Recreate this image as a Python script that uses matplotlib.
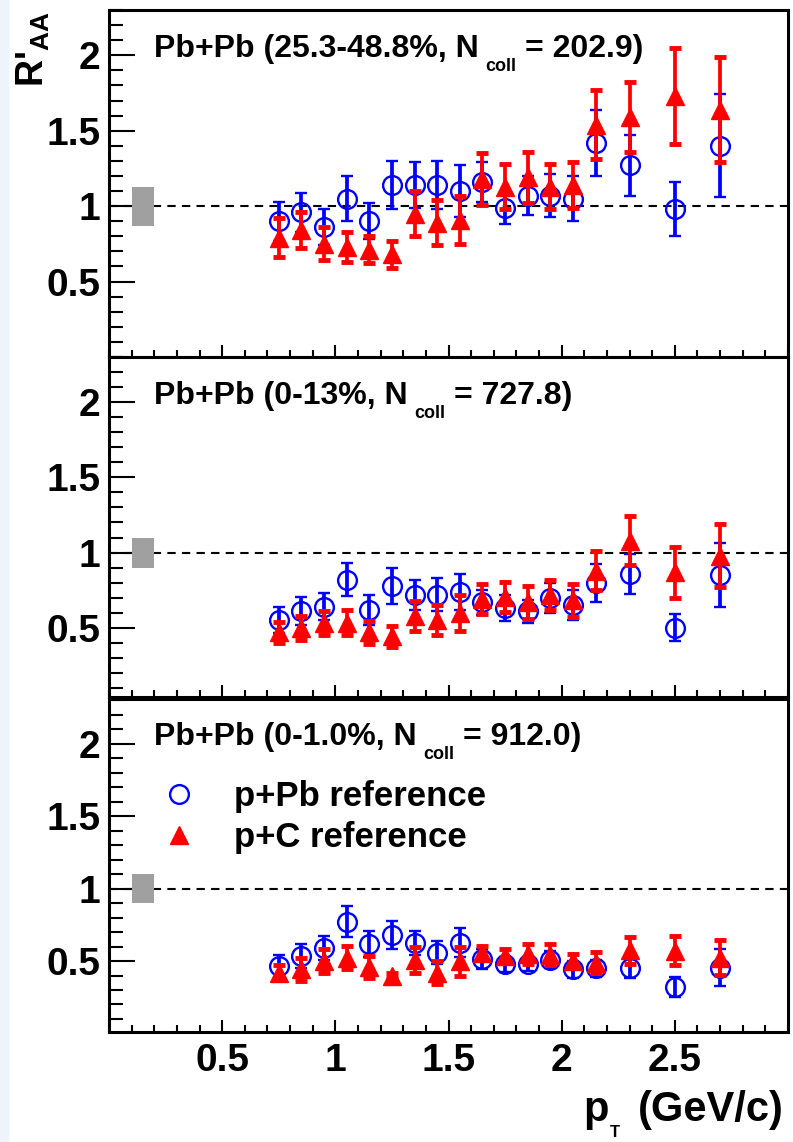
import matplotlib
matplotlib.use("Agg")
import matplotlib.pyplot as plt
from matplotlib.ticker import MultipleLocator
from matplotlib.patches import Rectangle

plt.rcParams['font.family'] = ['Liberation Sans', 'DejaVu Sans']
plt.rcParams['font.weight'] = 'bold'
plt.rcParams['mathtext.fontset'] = 'custom'
plt.rcParams['mathtext.rm'] = 'Liberation Sans:bold'
plt.rcParams['mathtext.bf'] = 'Liberation Sans:bold'
plt.rcParams['mathtext.it'] = 'Liberation Sans:bold'

# pT bin centres (GeV/c)
pt = [0.75, 0.85, 0.95, 1.05, 1.15, 1.25, 1.35, 1.45, 1.55, 1.65,
      1.75, 1.85, 1.95, 2.05, 2.15, 2.3, 2.5, 2.7]

# Pb+Pb 25.3-48.8%
ppb_periph = [0.90, 0.96, 0.86, 1.05, 0.90, 1.14, 1.14, 1.14, 1.10, 1.16,
              0.99, 1.07, 1.07, 1.05, 1.42, 1.27, 0.98, 1.40]
ppb_periph_err = [0.13, 0.13, 0.12, 0.15, 0.12, 0.16, 0.15, 0.16, 0.17, 0.13,
                  0.11, 0.13, 0.14, 0.15, 0.22, 0.20, 0.18, 0.34]
pc_periph = [0.79, 0.84, 0.75, 0.73, 0.71, 0.68, 0.95, 0.89, 0.91, 1.18,
             1.13, 1.19, 1.13, 1.14, 1.54, 1.59, 1.73, 1.64]
pc_periph_err = [0.13, 0.12, 0.11, 0.10, 0.09, 0.09, 0.15, 0.15, 0.16, 0.17,
                 0.15, 0.17, 0.15, 0.15, 0.23, 0.23, 0.32, 0.35]

# Pb+Pb 0-13%
ppb_central = [0.55, 0.61, 0.64, 0.82, 0.62, 0.78, 0.72, 0.72, 0.74, 0.67,
               0.63, 0.61, 0.70, 0.65, 0.80, 0.86, 0.50, 0.85]
ppb_central_err = [0.085, 0.094, 0.088, 0.11, 0.10, 0.12, 0.10, 0.11, 0.12, 0.083,
                   0.085, 0.078, 0.10, 0.10, 0.127, 0.133, 0.09, 0.215]
pc_central = [0.47, 0.50, 0.53, 0.535, 0.47, 0.445, 0.58, 0.55, 0.60, 0.69,
              0.705, 0.67, 0.717, 0.683, 0.88, 1.08, 0.87, 0.98]
pc_central_err = [0.07, 0.08, 0.08, 0.08, 0.075, 0.07, 0.10, 0.10, 0.12, 0.10,
                  0.10, 0.11, 0.10, 0.11, 0.13, 0.16, 0.17, 0.21]

# Pb+Pb 0-1.0%
ppb_ultra = [0.466, 0.534, 0.59, 0.773, 0.618, 0.68, 0.625, 0.557, 0.625, 0.516,
             0.477, 0.48, 0.51, 0.443, 0.45, 0.45, 0.32, 0.455]
ppb_ultra_err = [0.077, 0.083, 0.08, 0.107, 0.09, 0.10, 0.08, 0.08, 0.10, 0.07,
                 0.05, 0.05, 0.06, 0.06, 0.06, 0.065, 0.07, 0.125]
pc_ultra = [0.42, 0.443, 0.50, 0.523, 0.46, 0.40, 0.51, 0.42, 0.50, 0.557,
            0.534, 0.55, 0.545, 0.50, 0.49, 0.573, 0.57, 0.523]
pc_ultra_err = [0.05, 0.08, 0.08, 0.08, 0.075, 0.02, 0.09, 0.08, 0.10, 0.05,
                0.05, 0.07, 0.07, 0.05, 0.07, 0.09, 0.10, 0.12]

# label pieces: text before subscript, subscript, text after
panel_labels = [("Pb+Pb (25.3-48.8%, N", "coll", "= 202.9)"),
                ("Pb+Pb (0-13%, N", "coll", "= 727.8)"),
                ("Pb+Pb (0-1.0%, N", "coll", "= 912.0)")]
norm_unc = [0.13, 0.10, 0.10]

panels = [(ppb_periph, ppb_periph_err, pc_periph, pc_periph_err),
          (ppb_central, ppb_central_err, pc_central, pc_central_err),
          (ppb_ultra, ppb_ultra_err, pc_ultra, pc_ultra_err)]


def sub_label(ax, xy, coords, pre, sub, post, size, sub_size, drop, gap1, gap2):
    # ROOT style subscript: drops well below the baseline
    t1 = ax.annotate(pre, xy=xy, xycoords=coords, fontsize=size, fontweight='bold',
                     ha='left', va='baseline', annotation_clip=False)
    t2 = ax.annotate(sub, xy=(1, 0), xycoords=t1, xytext=(gap1, -drop),
                     textcoords='offset pixels', fontsize=sub_size,
                     fontweight='bold', ha='left', va='bottom', annotation_clip=False)
    ax.annotate(post, xy=(1, 0), xycoords=(t2, t1), xytext=(gap2, 0),
                textcoords='offset pixels', fontsize=size, fontweight='bold',
                ha='left', va='bottom', annotation_clip=False)


W, H = 793, 1142
fig = plt.figure(figsize=(W / 100, H / 100), dpi=100)
fig.patches.append(Rectangle((0, 0), 8 / W, 1, transform=fig.transFigure,
                             color='#edf4fc', zorder=0))

# pixel rows of each panel (top, bottom) and y ranges
rows = [(10, 357), (357, 697), (699, 1032)]
ylims = [(0.0, 2.3), (0.04, 2.3), (0.01, 2.31)]
left, right = 109, 788

axes = []
handles = []
for i, (top, bot) in enumerate(rows):
    ax = fig.add_axes([left / W, 1 - bot / H, (right - left) / W, (bot - top) / H])
    axes.append(ax)
    ppb, ppb_e, pc, pc_e = panels[i]

    ax.set_xlim(0, 3)
    ax.set_ylim(*ylims[i])
    ax.axhline(1, color='black', ls=(0, (4, 3)), lw=1.5, zorder=1)
    ax.bar(0.15, 2 * norm_unc[i], bottom=1 - norm_unc[i], width=0.1,
           color='#a0a0a0', zorder=2)

    eb1 = ax.errorbar(pt, ppb, yerr=ppb_e, fmt='o', mfc='none', mec='blue', ms=13.5,
                      mew=1.7, ecolor='blue', elinewidth=2.7, capsize=4, capthick=3.5,
                      zorder=3)
    eb2 = ax.errorbar(pt, pc, yerr=pc_e, fmt='^', mfc='red', mec='red', ms=13,
                      ecolor='red', elinewidth=2.7, capsize=4, capthick=3.5,
                      zorder=4)
    handles = [eb1.lines[0], eb2.lines[0]]

    pre, sub, post = panel_labels[i]
    sub_label(ax, (0.2, 1.99), 'data', pre, sub, post, 23, 13, 11, 6, 9)

    ax.xaxis.set_major_locator(MultipleLocator(0.5))
    ax.xaxis.set_minor_locator(MultipleLocator(0.1))
    ax.yaxis.set_major_locator(MultipleLocator(0.5))
    ax.yaxis.set_minor_locator(MultipleLocator(0.1))
    ax.tick_params(axis='y', which='major', direction='in', length=19, width=1.5,
                   labelsize=28, pad=6)
    ax.tick_params(axis='y', which='minor', direction='in', length=10, width=1.5)
    ax.tick_params(axis='x', which='major', direction='in', length=9, width=1.5,
                   labelsize=28, pad=8)
    ax.tick_params(axis='x', which='minor', direction='in', length=5, width=1.5)
    ax.set_yticks([0.5, 1, 1.5, 2])
    ax.set_yticklabels(['0.5', '1', '1.5', '2'])
    ax.set_xticks([0.5, 1, 1.5, 2, 2.5])
    if i < 2:
        ax.set_xticklabels([])
    else:
        ax.set_xticklabels(['0.5', '1', '1.5', '2', '2.5'])
    for s in ax.spines.values():
        s.set_linewidth(2.2)

axes[2].legend(handles, ['p+Pb reference', 'p+C reference'], loc='upper left',
               bbox_to_anchor=(0.0775, 0.757), frameon=False, fontsize=25,
               handlelength=1.0, handletextpad=1.09, labelspacing=0.24,
               borderpad=0, borderaxespad=0)

fig.text(0.019, 0.99, "R'$_{\\mathrm{AA}}$", rotation=90, fontsize=27,
         fontweight='bold', ha='left', va='top')
sub_label(axes[2], ((583 - left) / (right - left), (1032 - 1121) / 333),
          'axes fraction', "p", "T", "(GeV/c)", 30, 12, 10, 2, 17)

fig.savefig("out.png", dpi=100)
